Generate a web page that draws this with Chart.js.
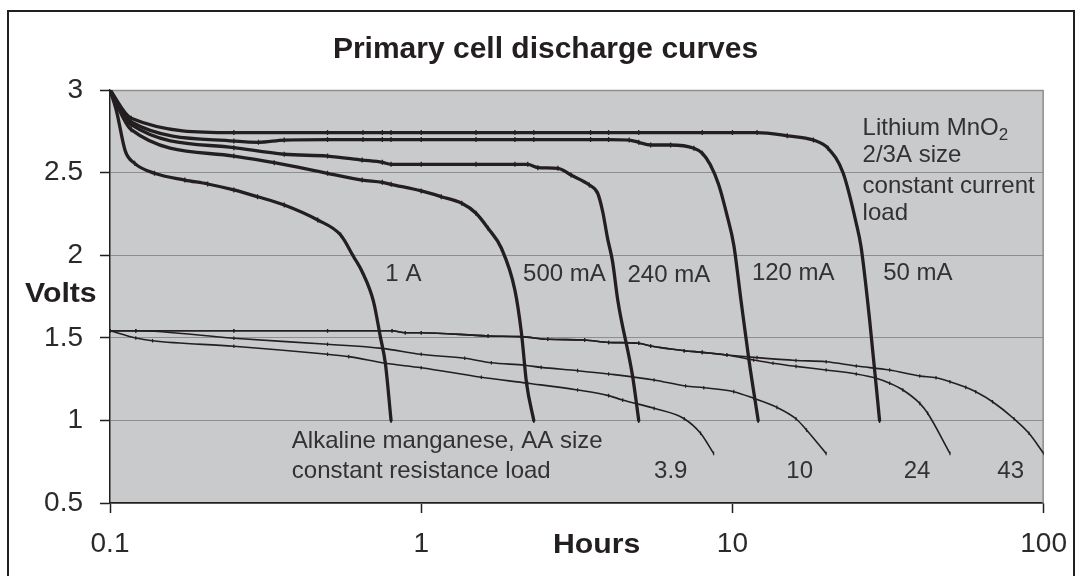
<!DOCTYPE html>
<html><head><meta charset="utf-8">
<script src="https://cdn.jsdelivr.net/npm/chart.js@4.4.1/dist/chart.umd.min.js"></script>
<style>
html,body{margin:0;padding:0;background:#fff;}
#wrap{position:relative;width:1081px;height:576px;overflow:hidden;}
#frame{position:absolute;left:7px;top:10px;width:1068px;height:620px;border:2px solid #231f20;box-sizing:border-box;pointer-events:none;}
canvas{position:absolute;left:0;top:0;}
</style></head><body>
<div id="wrap"><canvas id="c" width="1081" height="576"></canvas><div id="frame"></div></div>
<script>
// ---- axis ticks ----
const xTicks = [0.1, 1, 10, 100];
const xTickLabels = ['0.1', '1', '10', '100'];
const yTicks = [0.5, 1, 1.5, 2, 2.5, 3];
const yTickLabels = ['0.5', '1', '1.5', '2', '2.5', '3'];

// ---- Lithium MnO2 2/3A, constant current load (hours, volts) ----
const li1A_h = [0.1, 0.105, 0.112, 0.12, 0.139, 0.174, 0.206, 0.25, 0.298, 0.363, 0.465, 0.551, 0.607, 0.646, 0.703, 0.739, 0.767, 0.8];
const li1A_v = [3.0, 2.87, 2.63, 2.556, 2.496, 2.455, 2.431, 2.395, 2.354, 2.304, 2.213, 2.122, 1.989, 1.90, 1.718, 1.507, 1.346, 1.0];

const li500_h = [0.1, 0.117, 0.25, 0.337, 0.5, 0.646, 0.75, 0.8, 1.0, 1.16, 1.35, 1.5, 1.64, 1.81, 2.0, 2.1, 2.18, 2.3];
const li500_v = [3.0, 2.76, 2.60, 2.56, 2.496, 2.455, 2.441, 2.429, 2.389, 2.354, 2.314, 2.254, 2.163, 2.042, 1.789, 1.527, 1.225, 1.0];

const li240_h = [0.1, 0.117, 0.25, 0.363, 0.5, 0.646, 0.75, 0.8, 1.0, 1.5, 2.0, 2.2, 2.37, 2.75, 3.03, 3.47, 3.69, 3.83, 3.97, 4.12, 4.28, 4.78, 5.0];
const li240_v = [3.0, 2.79, 2.651, 2.611, 2.60, 2.576, 2.562, 2.55, 2.55, 2.55, 2.55, 2.55, 2.53, 2.526, 2.485, 2.425, 2.375, 2.263, 2.102, 1.961, 1.729, 1.265, 1.0];

const li120_h = [0.1, 0.117, 0.25, 0.30, 0.363, 0.5, 0.65, 0.75, 0.8, 1.0, 1.5, 2.0, 2.3, 3.5, 4.0, 4.66, 5.0, 5.46, 6.33, 7.52, 8.0, 8.5, 9.04, 9.6, 10.1, 10.65, 11.3, 12.1];
const li120_v = [3.0, 2.806, 2.691, 2.683, 2.697, 2.70, 2.70, 2.70, 2.70, 2.70, 2.70, 2.70, 2.70, 2.70, 2.70, 2.697, 2.683, 2.667, 2.667, 2.647, 2.617, 2.546, 2.425, 2.244, 2.062, 1.729, 1.366, 1.0];

const li50_h = [0.1, 0.117, 0.25, 0.5, 0.65, 0.75, 0.8, 1.0, 1.5, 2.0, 2.3, 3.5, 4.0, 5.0, 8.0, 10, 12, 15, 18.2, 20.3, 22.7, 25.0, 25.9, 27.6, 29.7];
const li50_v = [3.0, 2.829, 2.742, 2.742, 2.742, 2.742, 2.742, 2.742, 2.742, 2.742, 2.742, 2.742, 2.742, 2.742, 2.742, 2.742, 2.742, 2.723, 2.697, 2.647, 2.496, 2.193, 2.051, 1.607, 1.0];

// ---- Alkaline manganese AA, constant resistance load (ohms) ----
const alk39_h = [0.1, 0.121, 0.137, 0.25, 0.5, 0.585, 0.767, 1.0, 1.56, 2.2, 3.18, 4.0, 4.44, 5.6, 7.0, 7.9, 8.7];
const alk39_v = [1.543, 1.499, 1.482, 1.449, 1.40, 1.386, 1.346, 1.319, 1.261, 1.225, 1.184, 1.15, 1.123, 1.073, 1.01, 0.922, 0.80];

const alk10_h = [0.1, 0.121, 0.25, 0.5, 0.75, 1.0, 1.38, 1.68, 2.15, 2.43, 3.18, 4.0, 5.6, 7.07, 8.09, 10.1, 11.7, 13.9, 16, 17.3, 20];
const alk10_v = [1.543, 1.543, 1.497, 1.461, 1.436, 1.40, 1.376, 1.349, 1.334, 1.321, 1.301, 1.281, 1.245, 1.208, 1.198, 1.174, 1.134, 1.079, 1.01, 0.942, 0.80];

const alk24_h = [0.1, 0.121, 0.25, 0.5, 0.806, 0.889, 1.0, 1.64, 2.1, 2.55, 3.35, 4.0, 5.0, 5.46, 7.0, 8.0, 9.6, 11.7, 13.5, 16, 20, 25, 29, 32, 35.3, 40, 42.4, 50];
const alk24_v = [1.543, 1.543, 1.543, 1.543, 1.543, 1.531, 1.531, 1.511, 1.507, 1.491, 1.487, 1.472, 1.467, 1.45, 1.422, 1.412, 1.396, 1.366, 1.346, 1.327, 1.305, 1.281, 1.255, 1.225, 1.184, 1.103, 1.043, 0.80];

const alk43_h = [0.1, 0.121, 0.25, 0.5, 0.806, 0.889, 1.0, 1.64, 2.1, 2.55, 3.35, 4.0, 5.0, 5.46, 7.0, 8.0, 9.6, 12, 16, 20, 25, 32, 40, 45.1, 50, 56.2, 60.5, 68.5, 80.3, 89.7, 100];
const alk43_v = [1.543, 1.543, 1.543, 1.543, 1.543, 1.531, 1.531, 1.511, 1.507, 1.491, 1.487, 1.472, 1.467, 1.45, 1.422, 1.412, 1.396, 1.38, 1.363, 1.355, 1.329, 1.305, 1.269, 1.258, 1.234, 1.20, 1.173, 1.113, 1.01, 0.922, 0.80];

// ---- text ----
const titleText = 'Primary cell discharge curves';
const yTitle = 'Volts';
const xTitle = 'Hours';
// annotation texts with anchor in data coordinates (hours, volts), left aligned baseline
const noteTexts = ['2/3A size', 'constant current', 'load', '1 A', '500 mA', '240 mA', '120 mA', '50 mA',
  'Alkaline manganese, AA size', 'constant resistance load', '3.9', '10', '24', '43'];
const noteX = [26.2, 26.2, 26.2, 0.767, 2.124, 4.60, 11.55, 30.5, 0.384, 0.384, 5.6, 14.9, 35.5, 71];
const noteY = [2.566, 2.375, 2.213, 1.846, 1.846, 1.84, 1.85, 1.85, 0.831, 0.65, 0.65, 0.65, 0.65, 0.65];

const INK = '#231f20';
const FONT = '"Liberation Sans", Arial, Helvetica, sans-serif';

function series(h, v) { return h.map((x, i) => ({x: x, y: v[i]})); }
function liSet(label, h, v) {
  return {label, data: series(h, v), showLine: true, borderColor: INK, borderWidth: 3.3,
    pointStyle: 'line', rotation: 90, pointRadius: 2.5, pointBorderWidth: 1.3, pointBorderColor: INK,
    pointBackgroundColor: INK, cubicInterpolationMode: 'monotone', borderJoinStyle: 'round', borderCapStyle: 'round'};
}
function alkSet(label, h, v) {
  return {label, data: series(h, v), showLine: true, borderColor: INK, borderWidth: 1.6,
    pointStyle: 'line', rotation: 90, pointRadius: 1.8, pointBorderWidth: 1.2, pointBorderColor: INK,
    pointBackgroundColor: INK, cubicInterpolationMode: 'monotone', borderJoinStyle: 'round'};
}

const datasets = [
  liSet('1 A', li1A_h, li1A_v),
  liSet('500 mA', li500_h, li500_v),
  liSet('240 mA', li240_h, li240_v),
  liSet('120 mA', li120_h, li120_v),
  liSet('50 mA', li50_h, li50_v),
  alkSet('3.9', alk39_h, alk39_v),
  alkSet('10', alk10_h, alk10_v),
  alkSet('24', alk24_h, alk24_v),
  alkSet('43', alk43_h, alk43_v)
];

const bgPlugin = {
  id: 'bg',
  beforeDraw(chart) {
    const {ctx, chartArea: a} = chart;
    ctx.save();
    ctx.fillStyle = '#c9cacc';
    ctx.fillRect(a.left, a.top, a.right - a.left, a.bottom - a.top);
    ctx.restore();
  },
  beforeDatasetsDraw(chart) {
    const {ctx, chartArea: a} = chart;
    ctx.save();
    ctx.strokeStyle = '#8e8e8e';
    ctx.lineWidth = 1.5;
    ctx.beginPath();
    ctx.moveTo(a.left, a.top + 0.5); ctx.lineTo(a.right, a.top + 0.5);
    ctx.moveTo(a.right - 0.5, a.top); ctx.lineTo(a.right - 0.5, a.bottom);
    ctx.stroke();
    ctx.restore();
  }
};

function wideText(ctx, t, x, y, sx) {
  ctx.save();
  ctx.translate(x, y);
  ctx.scale(sx, 1);
  ctx.fillText(t, 0, 0);
  ctx.restore();
}

const textPlugin = {
  id: 'texts',
  afterDatasetsDraw(chart) {
    const {ctx, scales} = chart;
    const sx = scales.x, sy = scales.y;
    ctx.save();
    ctx.fillStyle = INK;
    ctx.textBaseline = 'alphabetic';
    // title
    ctx.font = 'bold 30px ' + FONT;
    ctx.textAlign = 'center';
    ctx.fillText(titleText, 545.5, 58);
    // axis titles
    ctx.textAlign = 'left';
    ctx.font = 'bold 27px ' + FONT;
    wideText(ctx, yTitle, 25, 302, 1.12);
    wideText(ctx, xTitle, 553, 553, 1.12);
    // annotations
    ctx.fillStyle = '#333132';
    ctx.font = '24px ' + FONT;
    const lx = sx.getPixelForValue(26.2), ly = sy.getPixelForValue(2.728);
    ctx.fillText('Lithium MnO', lx, ly);
    const w = ctx.measureText('Lithium MnO').width;
    ctx.font = '17px ' + FONT;
    ctx.fillText('2', lx + w, ly + 5);
    ctx.font = '24px ' + FONT;
    noteTexts.forEach((t, i) => {
      ctx.fillText(t, sx.getPixelForValue(noteX[i]), sy.getPixelForValue(noteY[i]));
    });
    ctx.restore();
  }
};

new Chart(document.getElementById('c'), {
  type: 'scatter',
  data: {datasets},
  options: {
    responsive: false,
    animation: false,
    events: [],
    layout: {padding: {left: 0, right: 33, top: 90, bottom: 0}},
    plugins: {legend: {display: false}, tooltip: {enabled: false}, title: {display: false}},
    scales: {
      x: {
        type: 'logarithmic', min: 0.1, max: 100,
        afterBuildTicks: s => { s.ticks = xTicks.map(v => ({value: v})); },
        afterFit: s => { s.height = 73; },
        ticks: {
          autoSkip: false, maxRotation: 0, padding: 14, color: '#2b2929',
          font: {family: FONT, size: 28},
          callback: (v) => { const i = xTicks.findIndex(t => Math.abs(t - v) < 1e-9); return i >= 0 ? xTickLabels[i] : ''; }
        },
        grid: {drawOnChartArea: false, tickLength: 10, tickColor: INK, tickWidth: 1.5},
        border: {color: INK, width: 1.5}
      },
      y: {
        min: 0.5, max: 3,
        afterBuildTicks: s => { s.ticks = yTicks.map(v => ({value: v})); },
        afterFit: s => { s.width = 110; },
        ticks: {
          padding: 17, color: '#2b2929', font: {family: FONT, size: 28},
          callback: (v) => { const i = yTicks.findIndex(t => Math.abs(t - v) < 1e-9); return i >= 0 ? yTickLabels[i] : ''; }
        },
        grid: {color: '#8e8e8e', lineWidth: 1, tickLength: 10, tickColor: INK, tickWidth: 1.5},
        border: {color: INK, width: 1.5}
      }
    }
  },
  plugins: [bgPlugin, textPlugin]
});
</script>
</body></html>
